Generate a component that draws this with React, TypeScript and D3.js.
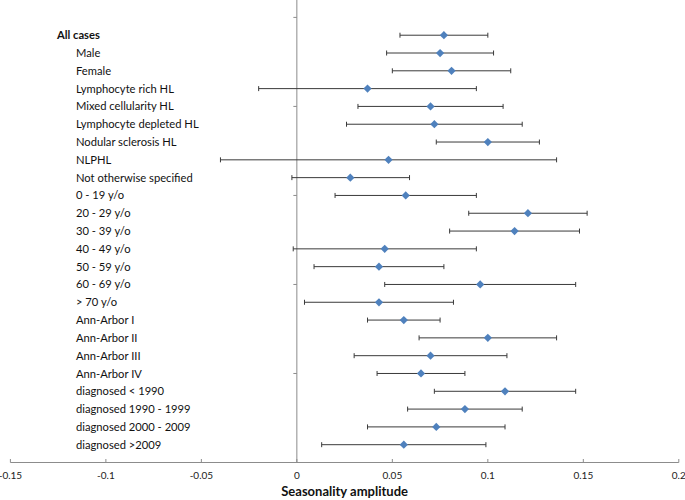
import React from "react";
import * as d3 from "d3";

const categories = [
  "All cases",
  "Male",
  "Female",
  "Lymphocyte rich HL",
  "Mixed cellularity HL",
  "Lymphocyte depleted HL",
  "Nodular sclerosis HL",
  "NLPHL",
  "Not otherwise specified",
  "0 - 19 y/o",
  "20 - 29 y/o",
  "30 - 39 y/o",
  "40 - 49 y/o",
  "50 - 59 y/o",
  "60 - 69 y/o",
  "> 70 y/o",
  "Ann-Arbor I",
  "Ann-Arbor II",
  "Ann-Arbor III",
  "Ann-Arbor IV",
  "diagnosed < 1990",
  "diagnosed 1990 - 1999",
  "diagnosed 2000 - 2009",
  "diagnosed >2009",
];

const amplitude = [
  0.077, 0.075, 0.081, 0.037, 0.070, 0.072, 0.100, 0.048, 0.028, 0.057, 0.121, 0.114,
  0.046, 0.043, 0.096, 0.043, 0.056, 0.100, 0.070, 0.065, 0.109, 0.088, 0.073, 0.056,
];
const lowerCI = [
  0.054, 0.047, 0.050, -0.020, 0.032, 0.026, 0.073, -0.040, -0.0026, 0.020, 0.090, 0.080,
  -0.0019, 0.009, 0.046, 0.004, 0.037, 0.064, 0.030, 0.042, 0.072, 0.058, 0.037, 0.013,
];
const upperCI = [
  0.100, 0.103, 0.112, 0.094, 0.108, 0.118, 0.127, 0.136, 0.059, 0.094, 0.152, 0.148,
  0.094, 0.077, 0.146, 0.082, 0.075, 0.136, 0.110, 0.088, 0.146, 0.118, 0.109, 0.099,
];
// vertical (hidden) value axis positions of each row
const rowValues = categories.map((_, i) => 4.8 - 0.2 * i);
const yAxisTicks = [1, 2, 3, 4, 5];
const xTicks = [-0.15, -0.1, -0.05, 0, 0.05, 0.1, 0.15, 0.2];
const xTickLabels = ["-0.15", "-0.1", "-0.05", "0", "0.05", "0.1", "0.15", "0.2"];
const axisTitle = "Seasonality amplitude";

const W = 685;
const H = 500;
const FONT = "Lato, 'Open Sans', sans-serif";

export default function App() {
  const x = d3.scaleLinear().domain([-0.15, 0.2]).range([10.4, 678.8]);
  const y = d3.scaleLinear().domain([0, 5]).range([462.5, 17.4]);
  const x0 = x(0);
  const axisColor = "#8c8c8c";
  const barColor = "#3a3a3a";
  const markerColor = "#4f81bd";
  const diamond = d3.symbol().type(d3.symbolSquare).size(34)();

  return (
    <svg
      width={W}
      height={H}
      style={{ position: "absolute", left: 0, top: 0, background: "#fff" }}
      fontFamily={FONT}
    >
      <rect width={W} height={H} fill="#fff" />
      {/* vertical axis */}
      <line x1={x0} x2={x0} y1={0} y2={y(0)} stroke={axisColor} strokeWidth={1} />
      {yAxisTicks.map((t) => (
        <line key={t} x1={x0 - 3.5} x2={x0} y1={y(t)} y2={y(t)} stroke={axisColor} strokeWidth={1} />
      ))}
      {/* horizontal axis */}
      <line x1={x(-0.15)} x2={x(0.2)} y1={y(0)} y2={y(0)} stroke={axisColor} strokeWidth={1} />
      {xTicks.map((t, i) => (
        <g key={t}>
          <line x1={x(t)} x2={x(t)} y1={y(0) - 3.5} y2={y(0)} stroke={axisColor} strokeWidth={1} />
          <text x={x(t)} y={y(0) + 16} textAnchor="middle" fontSize={10} fill="#222">
            {xTickLabels[i]}
          </text>
        </g>
      ))}
      <text x={x(0.025)} y={y(0) + 33} textAnchor="middle" fontSize={13} fontWeight="bold" fill="#111">
        {axisTitle}
      </text>
      {/* rows */}
      {categories.map((c, i) => {
        const yy = y(rowValues[i]);
        return (
          <g key={c}>
            <text
              x={i === 0 ? 57 : 76}
              y={yy}
              dy="0.36em"
              fontSize={11.2}
              fontWeight={i === 0 ? "bold" : "normal"}
              fill="#111"
            >
              {c}
            </text>
            <line x1={x(lowerCI[i])} x2={x(upperCI[i])} y1={yy} y2={yy} stroke={barColor} strokeWidth={1} />
            <line x1={x(lowerCI[i])} x2={x(lowerCI[i])} y1={yy - 2.5} y2={yy + 2.5} stroke={barColor} strokeWidth={1} />
            <line x1={x(upperCI[i])} x2={x(upperCI[i])} y1={yy - 2.5} y2={yy + 2.5} stroke={barColor} strokeWidth={1} />
            <path
              d={diamond}
              transform={`translate(${x(amplitude[i])},${yy}) rotate(45)`}
              fill={markerColor}
            />
          </g>
        );
      })}
    </svg>
  );
}
